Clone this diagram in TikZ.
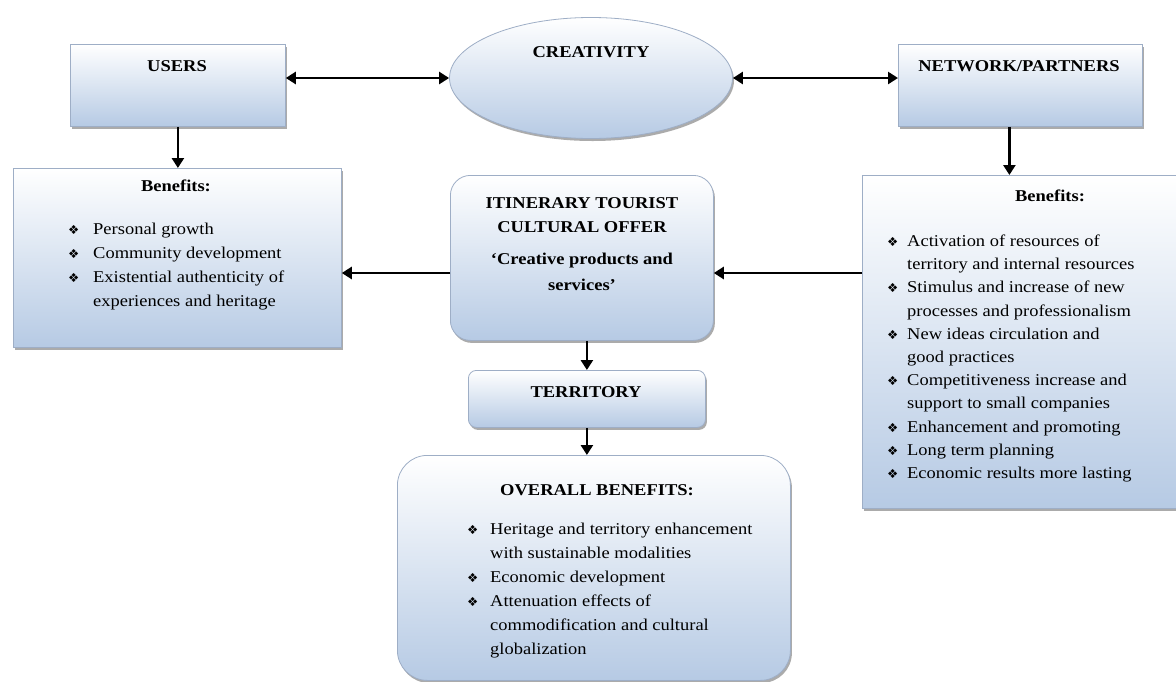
\documentclass[tikz,border=0pt]{standalone}
\usepackage{fontspec}
\setmainfont{Liberation Serif}[FakeStretch=1.12]
\newfontfamily\symfont{DejaVu Sans}
\usetikzlibrary{shapes.geometric,shadows,arrows.meta}
\definecolor{boxbot}{RGB}{182,202,228}
\definecolor{boxline}{RGB}{158,174,198}
\newcommand{\bulsym}{{\symfont\fontsize{12.5}{12.5}\selectfont\char"2756}}
\newcommand{\bia}{\makebox[25pt][l]{\bulsym}}
\newcommand{\cia}{\hspace*{25pt}}
\newcommand{\bib}{\makebox[20pt][l]{\bulsym}}
\newcommand{\cib}{\hspace*{20pt}}
\newcommand{\bic}{\makebox[23pt][l]{\bulsym}}
\newcommand{\cic}{\hspace*{23pt}}
\tikzset{
  gbox/.style={draw=boxline, line width=0.8pt, top color=white, bottom color=boxbot,
    inner sep=0pt, anchor=north west,
    drop shadow={shadow xshift=1.5pt, shadow yshift=-2.5pt, fill=black!55, opacity=0.6}},
  ttl/.style={font={\fontsize{16.5}{24}\selectfont\bfseries}, inner sep=0pt, align=center},
  lst/.style={font={\fontsize{16.5}{24}\selectfont}, inner sep=0pt, align=left, anchor=north west},
  arr/.style={line width=2.8pt, -{Triangle[length=10pt,width=12pt]}},
  darr/.style={line width=2.8pt, {Triangle[length=10pt,width=12pt]}-{Triangle[length=10pt,width=12pt]}}
}
\begin{document}
\begin{tikzpicture}[x=1pt,y=1pt]
\useasboundingbox (0,0) rectangle (1176,-681);
\fill[white] (0,0) rectangle (1176,-681);

% boxes
\node[gbox, minimum width=215pt, minimum height=82pt] (users) at (70,-44) {};
\node[gbox, ellipse, anchor=center, minimum width=283pt, minimum height=121pt] (creat) at (591,-78) {};
\node[gbox, minimum width=244pt, minimum height=82pt] (net) at (898,-44) {};
\node[gbox, minimum width=328pt, minimum height=179pt] (lben) at (13,-168) {};
\node[gbox, minimum width=330pt, minimum height=333pt] (rben) at (862,-175) {};
\node[gbox, rounded corners=20pt, minimum width=263pt, minimum height=165pt] (itin) at (450,-175) {};
\node[gbox, rounded corners=8pt, minimum width=237pt, minimum height=57pt] (terr) at (468,-370) {};
\node[gbox, rounded corners=30pt, minimum width=393pt, minimum height=225pt] (over) at (397,-455) {};

% titles
\node[ttl] (tusers) at (177,-66) {USERS};
\node[ttl] (tcreat) at (591,-52) {CREATIVITY};
\node[ttl] (tnet) at (1019,-66) {NETWORK/PARTNERS};
\node[ttl] (tlben) at (176,-186) {Benefits:};
\node[ttl] (trben) at (1050,-196) {Benefits:};
\node[ttl] (titin1) at (582,-203) {ITINERARY TOURIST};
\node[ttl] (titin2) at (582,-227) {CULTURAL OFFER};
\node[ttl] (titin3) at (582,-261) {`Creative products and};
\node[ttl] (titin4) at (582,-285) {services'};
\node[ttl] (tterr) at (586,-392) {TERRITORY};
\node[ttl] (tover) at (597,-490) {OVERALL BENEFITS:};

% lists
\node[lst] (llist) at (68,-222.7) {\bia Personal growth\\
\bia Community development\\
\bia Existential authenticity of\\
\cia experiences and heritage};

\node[lst, font={\fontsize{16.5}{23.2}\selectfont}] (rlist) at (887,-234.7) {\bib Activation of resources of\\
\cib territory and internal resources\\
\bib Stimulus and increase of new\\
\cib processes and professionalism\\
\bib New ideas circulation and\\
\cib good practices\\
\bib Competitiveness increase and\\
\cib support to small companies\\
\bib Enhancement and promoting\\
\bib Long term planning\\
\bib Economic results more lasting};

\node[lst] (olist) at (467,-522.7) {\bic Heritage and territory enhancement\\
\cic with sustainable modalities\\
\bic Economic development\\
\bic Attenuation effects of\\
\cic commodification and cultural\\
\cic globalization};

% connectors
\draw[darr] (users.east |- creat.west) -- (creat.west);
\draw[darr] (creat.east) -- (net.west |- creat.east);
\draw[arr] (users.south) -- (users.south |- lben.north);
\draw[arr] ([xshift=-11pt]net.south) -- ([xshift=-11pt]net.south |- rben.north);
\draw[arr] (rben.west |- 0,-273) -- (itin.east |- 0,-273);
\draw[arr] (itin.west |- 0,-273) -- (lben.east |- 0,-273);
\draw[arr] (terr.north |- itin.south) -- (terr.north);
\draw[arr] (terr.south) -- (terr.south |- over.north);
\end{tikzpicture}
\end{document}
